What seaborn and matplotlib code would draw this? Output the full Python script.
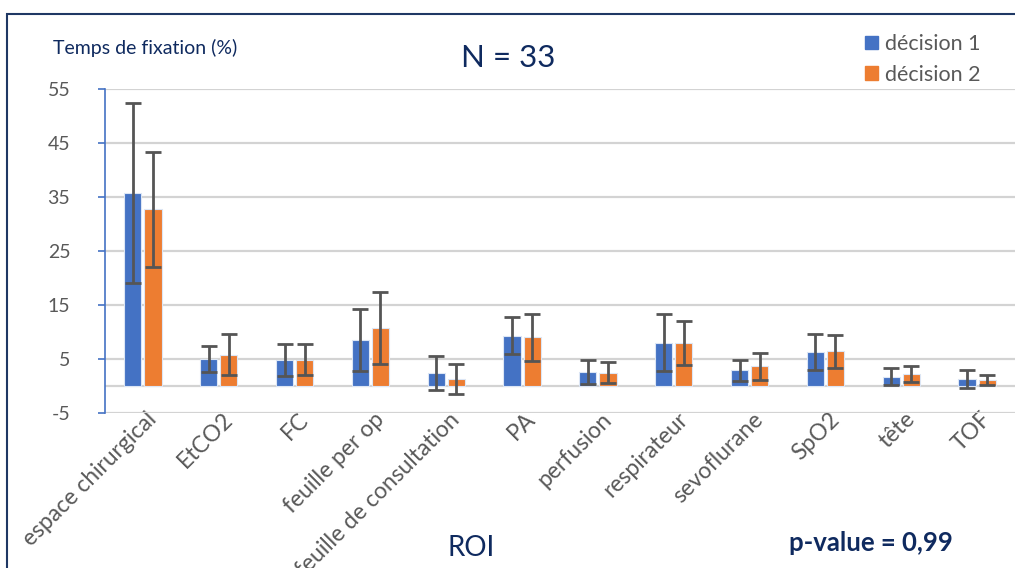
import matplotlib
matplotlib.use("Agg")
import numpy as np
import pandas as pd
import matplotlib.pyplot as plt
import matplotlib.transforms as mtransforms
import seaborn as sns
from matplotlib.patches import Rectangle

# --- données ---
roi = ["espace chirurgical", "EtCO2", "FC", "feuille per op",
       "feuille de consultation", "PA", "perfusion", "respirateur",
       "sevoflurane", "SpO2", "tête", "TOF"]
decision1 = [35.7, 5.0, 4.8, 8.5, 2.4, 9.3, 2.6, 8.0, 2.9, 6.3, 1.7, 1.3]
decision1_sd = [16.7, 2.4, 2.9, 5.8, 3.1, 3.4, 2.3, 5.3, 1.9, 3.3, 1.6, 1.7]
decision2 = [32.7, 5.8, 4.9, 10.7, 1.3, 9.0, 2.5, 8.0, 3.7, 6.4, 2.2, 1.1]
decision2_sd = [10.6, 3.8, 2.9, 6.7, 2.7, 4.4, 1.9, 4.1, 2.5, 3.1, 1.5, 1.0]
series = ["décision 1", "décision 2"]
colors = ["#4472C4", "#ED7D31"]
yticks = [-5, 5, 15, 25, 35, 45, 55]

navy = "#0F2A5F"
grey_txt = "#595959"
grid_col = "#d3d3d3"

df = pd.DataFrame({
    "ROI": roi * 2,
    "decision": [series[0]] * len(roi) + [series[1]] * len(roi),
    "value": decision1 + decision2,
    "sd": decision1_sd + decision2_sd,
})

sns.set_style("white")
plt.rcParams["font.family"] = ["Lato", "DejaVu Sans"]
plt.rcParams["axes.unicode_minus"] = False

fig = plt.figure(figsize=(10.15, 5.68), dpi=100)
ax = fig.add_axes([105 / 1015, 1 - 413 / 568, 910 / 1015, 324 / 568])

sns.barplot(data=df, x="ROI", y="value", hue="decision", palette=colors,
            saturation=1, errorbar=None, width=0.53, gap=0.15,
            edgecolor="#dce6f5", linewidth=0.8, ax=ax, zorder=3)

# barres d'erreur (écart-type)
for cont, s in zip(ax.containers, series):
    sds = df.loc[df["decision"] == s, "sd"].values
    xs = [b.get_x() + b.get_width() / 2 for b in cont]
    hs = [b.get_height() for b in cont]
    ax.errorbar(xs, hs, yerr=sds, fmt="none", ecolor="#555555",
                elinewidth=2, capsize=6, capthick=2, zorder=4)

ax.set_ylim(-5, 55)
ax.set_xlim(-0.5, len(roi) - 0.5)
ax.set_yticks(yticks)
ax.grid(True, axis="y", color=grid_col, linewidth=1.6)
ax.grid(False, axis="x")
ax.set_axisbelow(True)
ax.axhline(0, color=grid_col, linewidth=1.6, zorder=2)

for sp in ["top", "right", "bottom"]:
    ax.spines[sp].set_visible(False)
ax.spines["left"].set_color("#4472C4")
ax.spines["left"].set_linewidth(1.2)
ax.spines["left"].set_zorder(5)
ax.tick_params(axis="y", left=True, length=5, width=1.2, color="#4472C4",
               labelsize=14, labelcolor=grey_txt, pad=20)
ax.tick_params(axis="x", bottom=False, labelsize=16.5, labelcolor=grey_txt, pad=2)
offset = mtransforms.ScaledTranslation(3 / 100, 12 / 100, fig.dpi_scale_trans)
for lab in ax.get_xticklabels():
    lab.set_rotation(45)
    lab.set_ha("right")
    lab.set_rotation_mode("anchor")
    lab.set_transform(lab.get_transform() + offset)
ax.set_xlabel("")
ax.set_ylabel("")

ax.legend_.remove()
handles = [Rectangle((0, 0), 1, 1, color=c) for c in colors]
fig.legend(handles, series, loc="upper left", bbox_to_anchor=(865 / 1015, 1 - 34 / 568),
           frameon=False, fontsize=15.5, labelcolor=grey_txt, handlelength=0.6,
           handleheight=0.6, handletextpad=0.35, labelspacing=0.5, borderpad=0,
           borderaxespad=0)

fig.text(53 / 1015, 1 - 48 / 568, "Temps de fixation (%)", color=navy,
         fontsize=14, va="center", ha="left")
fig.text(508 / 1015, 1 - 58 / 568, "N = 33", color=navy, fontsize=22.5,
         va="center", ha="center")
fig.text(471 / 1015, 1 - 548 / 568, "ROI", color=navy, fontsize=20,
         va="center", ha="center")
fig.text(871 / 1015, 1 - 543 / 568, "p-value = 0,99", color=navy, fontsize=18.5,
         fontweight="bold", va="center", ha="center")

fig.patches.append(Rectangle((7 / 1015, -0.1), 1.2, 1 - 14 / 568 + 0.1,
                             transform=fig.transFigure, fill=False,
                             edgecolor="#1F3864", linewidth=1.5))

fig.savefig("out.png", dpi=100)
